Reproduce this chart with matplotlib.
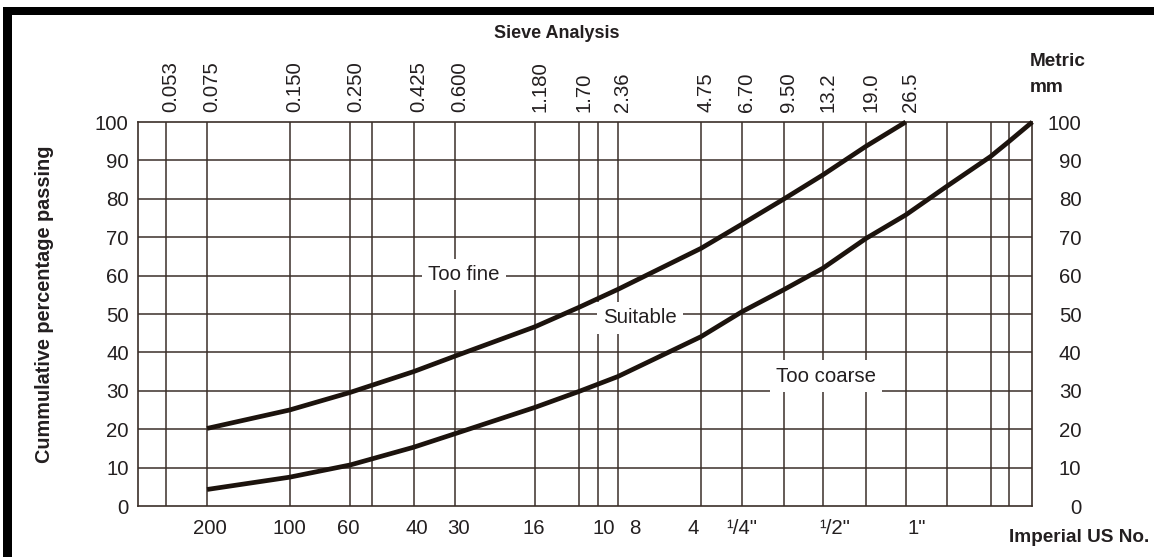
import matplotlib
matplotlib.use('Agg')
import matplotlib.pyplot as plt
from matplotlib.patches import Rectangle
from matplotlib.ticker import NullLocator

plt.rcParams['font.family'] = ['Liberation Sans', 'DejaVu Sans']

W, H, DPI = 1154, 557, 100

# ---- data ----
sieve_mm = [0.053, 0.075, 0.150, 0.250, 0.300, 0.425, 0.600, 1.18, 1.70, 2.00,
            2.36, 4.75, 6.70, 9.50, 13.2, 19.0, 26.5, 37.5, 54.0, 63.0]
metric_pos = [0.053, 0.075, 0.150, 0.250, 0.425, 0.600, 1.18, 1.70, 2.36,
              4.75, 6.70, 9.50, 13.2, 19.0, 26.5]
metric_labels = ['0.053', '0.075', '0.150', '0.250', '0.425', '0.600', '1.180',
                 '1.70', '2.36', '4.75', '6.70', '9.50', '13.2', '19.0', '26.5']
imperial_pos = [0.075, 0.150, 0.250, 0.425, 0.600, 1.18, 2.00, 2.36, 4.75,
                6.70, 13.2, 26.5]
imperial_labels = ['200', '100', '60', '40', '30', '16', '10', '8', '4',
                   '¹/4"', '¹/2"', '1"']
pct_ticks = [0, 10, 20, 30, 40, 50, 60, 70, 80, 90, 100]

upper_mm = [0.075, 0.150, 0.250, 0.425, 0.600, 1.18, 1.70, 2.36, 4.75, 6.70,
            9.50, 13.2, 19.0, 26.5]
upper_pct = [20.2, 25.0, 29.6, 35.0, 39.0, 46.7, 51.7, 56.4, 67.1, 73.4,
             79.9, 86.2, 93.7, 100.0]
lower_mm = [0.075, 0.150, 0.250, 0.425, 0.600, 1.18, 1.70, 2.36, 4.75, 6.70,
            9.50, 13.2, 19.0, 26.5, 37.5, 54.0, 63.0, 76.7]
lower_pct = [4.3, 7.5, 10.7, 15.3, 18.8, 25.7, 29.8, 33.7, 44.1, 50.6,
             56.3, 61.9, 69.7, 75.8, 83.3, 91.0, 94.9, 100.0]

zone_labels = ['Too fine', 'Suitable', 'Too coarse']
zone_mm = [0.649, 2.85, 13.57]
zone_pct = [60.3, 49.0, 33.8]

# ---- style ----
GRID = '#3b2f29'
CURVE = '#1c130d'
TXT = '#231f20'
FS = 14.7
imperial_dx = [3, 0, -2, 3, 4, -1, 6, 17, -8, 0, 12, 11]

fig = plt.figure(figsize=(W / DPI, H / DPI), dpi=DPI)
ax = fig.add_axes([137.7 / W, (H - 506) / H, (1032.3 - 137.7) / W, 384 / H])
ax.set_xscale('log')
ax.set_xlim(0.0419, 76.7)
ax.set_ylim(0, 100)
for loc_axis in (ax.xaxis, ax.yaxis):
    loc_axis.set_major_locator(NullLocator())
    loc_axis.set_minor_locator(NullLocator())
for sp in ax.spines.values():
    sp.set_color(GRID)
    sp.set_linewidth(1.2)

for x in sieve_mm:
    ax.axvline(x, color=GRID, lw=1.1, zorder=1)
for y in pct_ticks[1:-1]:
    ax.axhline(y, color=GRID, lw=1.1, zorder=1)

for xs, ys in ((upper_mm, upper_pct), (lower_mm, lower_pct)):
    ax.plot(xs, ys, color=CURVE, lw=3.4, solid_capstyle='butt',
            solid_joinstyle='round', zorder=5, clip_on=False)

for lbl, x, y in zip(zone_labels, zone_mm, zone_pct):
    ax.text(x, y, lbl, ha='center', va='center', fontsize=FS, color=TXT, zorder=4,
            bbox=dict(facecolor='white', edgecolor='none', pad=4.5))

# y tick labels both sides
for v in pct_ticks:
    ax.annotate(str(v), xy=(0, v), xycoords=('axes fraction', 'data'),
                xytext=(-9, -2), textcoords='offset pixels', ha='right', va='center',
                fontsize=FS, color=TXT, annotation_clip=False)
    ax.annotate(str(v), xy=(1, v), xycoords=('axes fraction', 'data'),
                xytext=(49, -2), textcoords='offset pixels', ha='right', va='center',
                fontsize=FS, color=TXT, annotation_clip=False)

# metric (top) labels
for lbl, x in zip(metric_labels, metric_pos):
    ax.annotate(lbl, xy=(x, 1), xycoords=('data', 'axes fraction'),
                xytext=(5, 10), textcoords='offset pixels', rotation=90,
                ha='center', va='bottom', fontsize=FS, color=TXT, annotation_clip=False)

# imperial (bottom) labels
for lbl, x, dx in zip(imperial_labels, imperial_pos, imperial_dx):
    ax.annotate(lbl, xy=(x, 0), xycoords=('data', 'axes fraction'),
                xytext=(dx, -23), textcoords='offset pixels',
                ha='center', va='center', fontsize=FS, color=TXT, annotation_clip=False)

fig.text(557 / W, 1 - 33 / H, 'Sieve Analysis', ha='center', va='center',
         fontsize=13.0, fontweight='bold', color=TXT)
fig.text(1030 / W, 1 - 62 / H, 'Metric', ha='left', va='center',
         fontsize=13.7, fontweight='bold', color=TXT)
fig.text(1030 / W, 1 - 88 / H, 'mm', ha='left', va='center',
         fontsize=13.7, fontweight='bold', color=TXT)
fig.text(1079 / W, 1 - 537 / H, 'Imperial US No.', ha='center', va='center',
         fontsize=13.7, fontweight='bold', color=TXT)
fig.text(45 / W, 1 - 304 / H, 'Cummulative percentage passing', ha='center',
         va='center', rotation=90, fontsize=14.3, fontweight='bold', color=TXT)

# black frame bars (top and left)
fig.add_artist(Rectangle((3 / W, 1 - 15 / H), 1 - 3 / W, 8 / H,
                         transform=fig.transFigure, facecolor='black', edgecolor='none'))
fig.add_artist(Rectangle((3 / W, 0), 9 / W, 1 - 7 / H,
                         transform=fig.transFigure, facecolor='black', edgecolor='none'))

fig.savefig('out.png', dpi=DPI, facecolor='white')
